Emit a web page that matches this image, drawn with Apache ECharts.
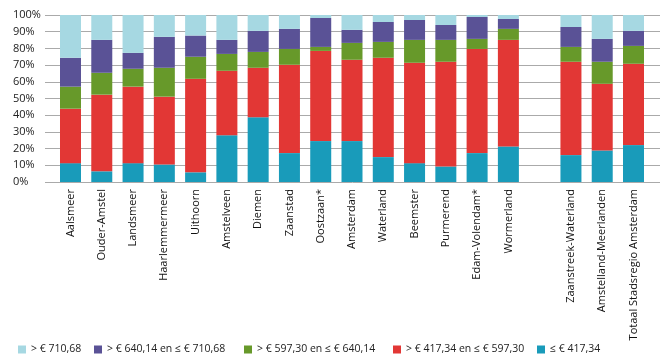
<!DOCTYPE html>
<html><head><meta charset="utf-8">
<script src="https://cdn.jsdelivr.net/npm/echarts@6/dist/echarts.min.js"></script>
<style>html,body{margin:0;padding:0;background:#fff}#c{width:660px;height:364px}</style>
</head><body><div id="c"></div>
<script>
var categories = ['Aalsmeer','Ouder-Amstel','Landsmeer','Haarlemmermeer','Uithoorn','Amstelveen','Diemen','Zaanstad','Oostzaan*','Amsterdam','Waterland','Beemster','Purmerend','Edam-Volendam*','Wormerland','','Zaanstreek-Waterland','Amstelland-Meerlanden','Totaal Stadsregio Amsterdam'];
var seriesNames = ['> € 710,68','> € 640,14 en ≤ € 710,68','> € 597,30 en ≤ € 640,14','> € 417,34 en ≤ € 597,30','≤ € 417,34'];
var low   = [11.3, 6.4,11.3,10.5, 5.8,28.0,38.8,17.3,24.5,24.5,14.9,11.3, 9.3,17.3,21.3,null,16.1,18.9,22.1];
var mid   = [32.6,45.9,45.8,40.6,56.0,38.6,29.6,52.9,54.0,48.7,59.5,60.1,62.7,62.4,63.8,null,55.9,39.9,48.7];
var upper = [13.2,13.1,10.7,17.3,13.2,10.1, 9.5, 9.5, 2.4,10.1, 9.5,13.7,13.1, 6.0, 6.6,null, 8.9,13.2,10.7];
var high  = [17.3,19.7, 9.5,18.5,12.7, 8.4,12.6,12.0,17.3, 7.8,11.9,11.9, 8.9,13.1, 5.9,null,11.9,13.7, 9.0];
var top_  = [25.6,14.9,22.7,13.1,12.3,14.9, 9.5, 8.3, 1.8, 8.9, 4.2, 3.0, 6.0, 1.2, 2.4,null, 7.2,14.3, 9.5];
var yTicks = [0,10,20,30,40,50,60,70,80,90,100];

var colors = ['#a6d8e2','#5a5296','#67992a','#e23735','#199bba'];
var font = 'Open Sans';
var chart = echarts.init(document.getElementById('c'), null, {renderer:'canvas'});
var dataByName = {};
dataByName[seriesNames[0]] = top_;
dataByName[seriesNames[1]] = high;
dataByName[seriesNames[2]] = upper;
dataByName[seriesNames[3]] = mid;
dataByName[seriesNames[4]] = low;
var order = [4,3,2,1,0];
var series = order.map(function(i){
  return {name: seriesNames[i], type:'bar', stack:'s', xAxisIndex:1, yAxisIndex:1,
    barWidth:21, data: dataByName[seriesNames[i]], itemStyle:{color: colors[i]}};
});
var legendLefts = [13, 89, 239, 388, 532];
var legends = seriesNames.map(function(n,i){
  return {data:[n], left: legendLefts[i], top: 339, itemWidth:8, itemHeight:8, icon:'rect', itemGap:0,
    textStyle:{fontFamily:font, fontSize:10.5, color:'#222'}, selectedMode:false};
});
chart.setOption({
  animation:false,
  color: colors,
  legend: legends,
  grid:[
    {left:45, right:0, top:15, bottom:182, containLabel:false},
    {left:54.86, right:10.86, top:15, bottom:182, containLabel:false}
  ],
  xAxis:[
    {gridIndex:0, type:'value', show:false, min:0, max:1},
    {gridIndex:1, type:'category', data:categories,
      axisLine:{show:false}, axisTick:{show:false},
      axisLabel:{rotate:90, interval:0, margin:7, fontFamily:font, fontSize:11, color:'#111'}}
  ],
  yAxis:[
    {gridIndex:0, type:'value', min:0, max:100, interval:10,
      axisLine:{show:false}, axisTick:{show:false},
      axisLabel:{formatter:function(v){return yTicks.indexOf(v)>=0 ? v+'%' : '';}, align:'left', margin:32,
        fontFamily:font, fontSize:11, color:'#222'},
      splitLine:{show:true, lineStyle:{color:'#aaaaaa', width:1}}},
    {gridIndex:1, type:'value', min:0, max:100, show:false}
  ],
  series: series
});
</script></body></html>
